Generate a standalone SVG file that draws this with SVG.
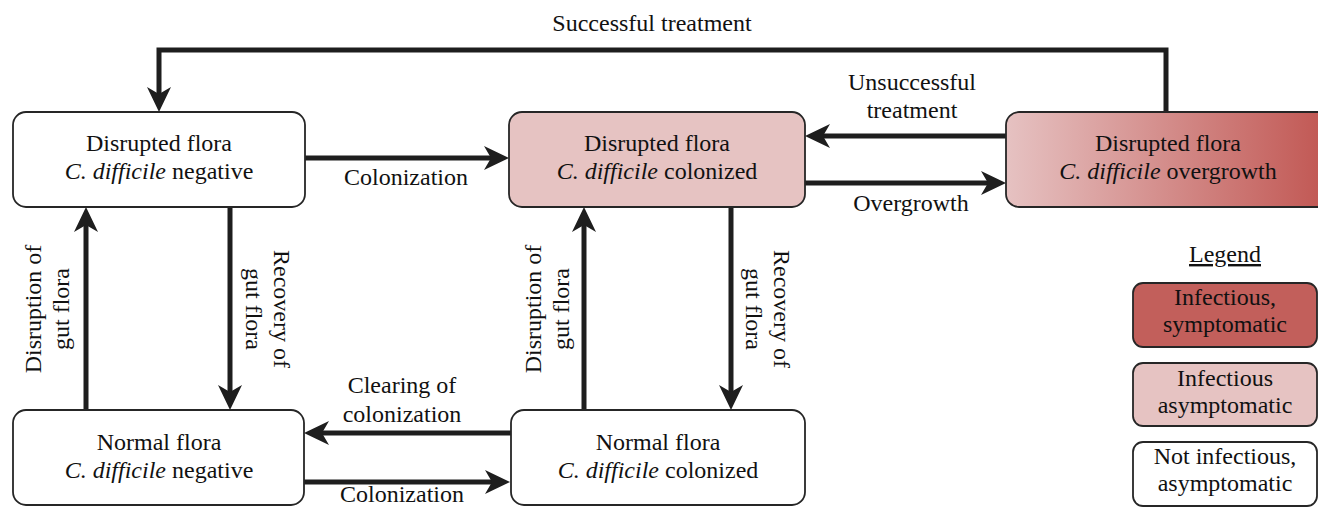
<svg xmlns="http://www.w3.org/2000/svg" width="1318" height="508" viewBox="0 0 1318 508">
<style>
  .box { stroke:#262626; stroke-width:1.8; }
  .t { font-family:"Liberation Serif","Times New Roman",serif; font-size:24px; fill:#111; text-anchor:middle; }
  .it { font-style:italic; }
  .conn path { fill:none; stroke:#1e1e1e; stroke-width:5; marker-end:url(#ah); }
</style>
<defs>
  <marker id="ah" viewBox="-14 -13 27 26" refX="0" refY="0" markerWidth="27" markerHeight="26" markerUnits="userSpaceOnUse" orient="auto" overflow="visible">
    <path d="M12,0 L-13,-12 L-6,0 L-13,12 Z" fill="#1e1e1e"/>
  </marker>
  <linearGradient id="grad" gradientUnits="userSpaceOnUse" x1="1006" y1="0" x2="1318" y2="0">
    <stop offset="0" stop-color="#e6c2c2"/>
    <stop offset="1" stop-color="#c25a56"/>
  </linearGradient>
</defs>
<rect width="1318" height="508" fill="#ffffff"/>

<g class="conn" id="connectors">
  <path d="M1166,112 V50 H159 V100"/>
  <path d="M305,158 H497"/>
  <path d="M805,183 H994"/>
  <path d="M1006,136 H817"/>
  <path d="M86,410 V219"/>
  <path d="M230,207 V398"/>
  <path d="M584,410 V219"/>
  <path d="M731,207 V398"/>
  <path d="M511,433 H316"/>
  <path d="M304,482 H498"/>
</g>

<g id="labels">
  <text class="t" x="652" y="31">Successful treatment</text>
  <text class="t" x="406" y="185">Colonization</text>
  <text class="t" x="911" y="211">Overgrowth</text>
  <text class="t" x="912" y="90">Unsuccessful</text>
  <text class="t" x="912" y="118">treatment</text>
  <text class="t" x="402" y="393">Clearing of</text>
  <text class="t" x="402" y="422">colonization</text>
  <text class="t" x="402" y="502">Colonization</text>
  <text class="t" transform="translate(41,309) rotate(-90)">Disruption of</text>
  <text class="t" transform="translate(69,309) rotate(-90)">gut flora</text>
  <text class="t" transform="translate(274,309) rotate(90)">Recovery of</text>
  <text class="t" transform="translate(246,309) rotate(90)">gut flora</text>
  <text class="t" transform="translate(541,309) rotate(-90)">Disruption of</text>
  <text class="t" transform="translate(569,309) rotate(-90)">gut flora</text>
  <text class="t" transform="translate(774,309) rotate(90)">Recovery of</text>
  <text class="t" transform="translate(746,309) rotate(90)">gut flora</text>
</g>

<g id="node-disrupted-negative">
  <rect class="box" x="13" y="112" width="292" height="95" rx="13" fill="#ffffff"/>
  <text class="t" x="159" y="151">Disrupted flora</text>
  <text class="t" x="159" y="179"><tspan class="it">C. difficile</tspan> negative</text>
</g>
<g id="node-disrupted-colonized">
  <rect class="box" x="509" y="112" width="296" height="95" rx="13" fill="#e6c3c2"/>
  <text class="t" x="657" y="151">Disrupted flora</text>
  <text class="t" x="657" y="179"><tspan class="it">C. difficile</tspan> colonized</text>
</g>
<g id="node-disrupted-overgrowth">
  <rect class="box" x="1006" y="112" width="326" height="95" rx="13" fill="url(#grad)"/>
  <text class="t" x="1168" y="151">Disrupted flora</text>
  <text class="t" x="1168" y="179"><tspan class="it">C. difficile</tspan> overgrowth</text>
</g>
<g id="node-normal-negative">
  <rect class="box" x="13" y="410" width="291" height="95" rx="13" fill="#ffffff"/>
  <text class="t" x="159" y="450">Normal flora</text>
  <text class="t" x="159" y="478"><tspan class="it">C. difficile</tspan> negative</text>
</g>
<g id="node-normal-colonized">
  <rect class="box" x="511" y="410" width="294" height="95" rx="13" fill="#ffffff"/>
  <text class="t" x="658" y="450">Normal flora</text>
  <text class="t" x="658" y="478"><tspan class="it">C. difficile</tspan> colonized</text>
</g>

<g id="legend">
  <text class="t" x="1225" y="262" text-decoration="underline">Legend</text>
  <rect class="box" x="1133" y="283" width="184" height="64" rx="10" fill="#c25f5b"/>
  <text class="t" x="1225" y="305">Infectious,</text>
  <text class="t" x="1225" y="332">symptomatic</text>
  <rect class="box" x="1133" y="363" width="184" height="63" rx="10" fill="#e6c3c2"/>
  <text class="t" x="1225" y="386">Infectious</text>
  <text class="t" x="1225" y="413">asymptomatic</text>
  <rect class="box" x="1133" y="442" width="184" height="64" rx="10" fill="#ffffff"/>
  <text class="t" x="1225" y="464">Not infectious,</text>
  <text class="t" x="1225" y="491">asymptomatic</text>
</g>
</svg>
